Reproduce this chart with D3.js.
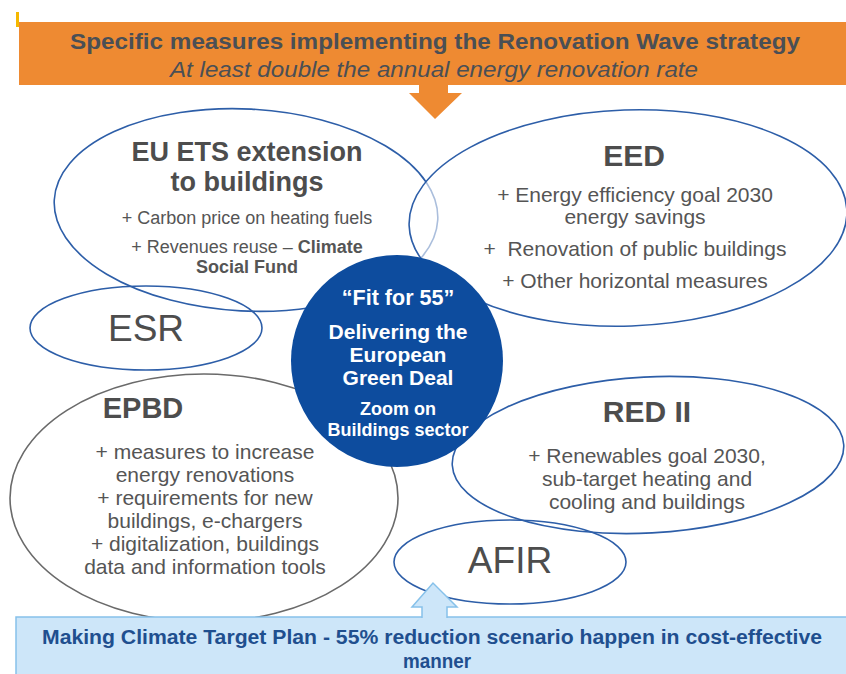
<!DOCTYPE html>
<html>
<head>
<meta charset="utf-8">
<script src="https://cdn.jsdelivr.net/npm/d3@7"></script>
<style>
  body { margin: 0; background: #fff; }
  svg { display: block; font-family: "Liberation Sans", Arial, sans-serif; }
</style>
</head>
<body>
<svg id="chart" width="846" height="674"></svg>
<script>
// text content of the diagram
const headerLines = ['Specific measures implementing the Renovation Wave strategy', 'At least double the annual energy renovation rate']
const footerLines = ['Making Climate Target Plan - 55% reduction scenario happen in cost-effective', 'manner']
const hubLines = ['\u201cFit for 55\u201d', 'Delivering the', 'European', 'Green Deal', 'Zoom on', 'Buildings sector']

const groupNames = ['ETS', 'EED', 'ESR', 'EPBD', 'RED', 'AFIR']
const groupTitles = [['EU ETS extension', 'to buildings'], ['EED'], ['ESR'], ['EPBD'], ['RED II'], ['AFIR']]
const groupItems = [
  [['+ Carbon price on heating fuels'], ['+ Revenues reuse \u2013 ', '*Climate'], ['*Social Fund']],
  [['+ Energy efficiency goal 2030'], ['energy savings'], ['+\u00a0 Renovation of public buildings'], ['+ Other horizontal measures']],
  [],
  [['+ measures to increase'], ['energy renovations'], ['+ requirements for new'], ['buildings, e-chargers'], ['+ digitalization, buildings'], ['data and information tools']],
  [['+ Renewables goal 2030,'], ['sub-target heating and'], ['cooling and buildings']],
  []
]

// layout (pixels)
const ovals = {
  ETS: { cx: 246, cy: 210, rx: 192, ry: 101, rot: 3, stroke: '#2d5ea8', fill: 'none' },
  EED: { cx: 628, cy: 218, rx: 219, ry: 108, rot: -2, stroke: '#2d5ea8', fill: 'rgba(255,255,255,0.6)' },
  ESR: { cx: 146, cy: 328, rx: 116, ry: 42, rot: 0, stroke: '#2d5ea8', fill: 'none' },
  EPBD: { cx: 204, cy: 498, rx: 194, ry: 124, rot: 0, stroke: '#6a6a6a', fill: 'none' },
  RED: { cx: 648, cy: 455, rx: 196, ry: 78, rot: -3, stroke: '#2d5ea8', fill: 'none' },
  AFIR: { cx: 510, cy: 562, rx: 116, ry: 42, rot: 0, stroke: '#2d5ea8', fill: 'none' }
}
const titleStyle = {
  ETS: { x: 247, y: [161, 191], size: 27, weight: 'bold', itemSize: 18 },
  EED: { x: 634, y: [166], size: 30, weight: 'bold', itemSize: 21 },
  ESR: { x: 146, y: [341], size: 37, weight: 'normal' },
  EPBD: { x: 143, y: [418], size: 29, weight: 'bold', itemSize: 21 },
  RED: { x: 647, y: [422], size: 30, weight: 'bold', itemSize: 21 }
}
titleStyle.AFIR = { x: 510, y: [573], size: 37, weight: 'normal' }
const itemYs = {
  ETS: [224, 253, 273],
  EED: [202, 224, 256, 288],
  EPBD: [459, 482, 505, 528, 551, 574],
  RED: [463, 486, 509]
}
const itemX = { ETS: 247, EED: 635, EPBD: 205, RED: 647 }

const svg = d3.select('#chart')
const textGray = '#555555'

// header banner
svg.append('rect').attr('x', 16).attr('y', 12).attr('width', 3).attr('height', 15).attr('fill', '#f5b800')
svg.append('rect').attr('x', 19).attr('y', 22).attr('width', 827).attr('height', 63).attr('fill', '#ee8a32')
svg.append('path')
  .attr('d', 'M419,84 L448,84 L448,93 L462,93 L435,119 L409,93 L419,93 Z')
  .attr('fill', '#ee8a32')

svg.append('text').attr('x', 435).attr('y', 49)
  .attr('text-anchor', 'middle').attr('font-weight', 'bold').attr('font-size', 22)
  .attr('fill', '#4a4f55').attr('textLength', 730).attr('lengthAdjust', 'spacingAndGlyphs')
  .text(headerLines[0])
svg.append('text').attr('x', 434).attr('y', 77)
  .attr('text-anchor', 'middle').attr('font-style', 'italic').attr('font-size', 22)
  .attr('fill', '#4a4f55').attr('textLength', 528).attr('lengthAdjust', 'spacingAndGlyphs')
  .text(headerLines[1])

// ovals
const ovalLayer = svg.append('g')
groupNames.forEach(name => {
  const o = ovals[name]
  ovalLayer.append('ellipse')
    .attr('cx', 0).attr('cy', 0).attr('rx', o.rx).attr('ry', o.ry)
    .attr('transform', `translate(${o.cx},${o.cy}) rotate(${o.rot})`)
    .attr('fill', o.fill)
    .attr('stroke', o.stroke)
    .attr('stroke-width', 1.6)
})

// oval texts
groupNames.forEach((name, i) => {
  const t = titleStyle[name]
  groupTitles[i].forEach((line, j) => {
    svg.append('text').attr('x', t.x).attr('y', t.y[j])
      .attr('text-anchor', 'middle').attr('font-size', t.size).attr('font-weight', t.weight)
      .attr('fill', '#4d4d4d').text(line)
  })
  groupItems[i].forEach((parts, j) => {
    const txt = svg.append('text').attr('x', itemX[name]).attr('y', itemYs[name][j])
      .attr('text-anchor', 'middle').attr('font-size', t.itemSize).attr('fill', textGray)
    parts.forEach(p => {
      const bold = p.startsWith('*')
      txt.append('tspan').attr('font-weight', bold ? 'bold' : 'normal').text(bold ? p.slice(1) : p)
    })
  })
})

// hub circle
svg.append('circle').attr('cx', 397).attr('cy', 361).attr('r', 106).attr('fill', '#0d4c9e')
const hubYs = [305, 339, 362, 385, 415, 436]
const hubSizes = [21.5, 21, 21, 21, 18, 18]
hubLines.forEach((line, i) => {
  svg.append('text').attr('x', 398).attr('y', hubYs[i])
    .attr('text-anchor', 'middle').attr('font-weight', 'bold').attr('font-size', hubSizes[i])
    .attr('fill', '#ffffff').text(line)
})

// footer box and arrow
svg.append('rect').attr('x', 16).attr('y', 617).attr('width', 835).attr('height', 62)
  .attr('fill', '#cde6f9').attr('stroke', '#86c1ea').attr('stroke-width', 1.5)
svg.append('path')
  .attr('d', 'M422,618 L422,607 L412,607 L433,583 L457,607 L447,607 L447,618')
  .attr('fill', '#cde6f9').attr('stroke', '#86c1ea').attr('stroke-width', 1.5)

svg.append('text').attr('x', 432).attr('y', 644)
  .attr('text-anchor', 'middle').attr('font-weight', 'bold').attr('font-size', 20)
  .attr('fill', '#1f4f8f').attr('textLength', 780).attr('lengthAdjust', 'spacingAndGlyphs')
  .text(footerLines[0])
svg.append('text').attr('x', 437).attr('y', 668)
  .attr('text-anchor', 'middle').attr('font-weight', 'bold').attr('font-size', 20)
  .attr('fill', '#1f4f8f').attr('textLength', 68).attr('lengthAdjust', 'spacingAndGlyphs')
  .text(footerLines[1])
</script>
</body>
</html>
